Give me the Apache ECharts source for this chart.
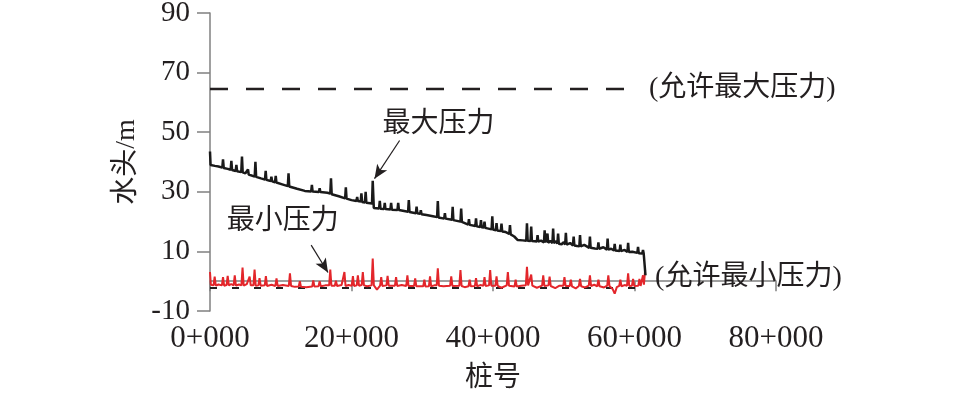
<!DOCTYPE html>
<html>
<head>
<meta charset="utf-8">
<script src="https://cdn.jsdelivr.net/npm/echarts@6/dist/echarts.min.js"></script>
<style>
html,body{margin:0;padding:0;background:#fff;}
#chart{width:957px;height:395px;}
</style>
</head>
<body>
<div id="chart"></div>
<script>
// ---- data (station in km, head in m) ----
const xTickLabels = ['0+000', '20+000', '40+000', '60+000', '80+000'];
const yTickValues = [-10, 10, 30, 50, 70, 90];

const maxHeadPoints = [
[0,43.5],[0.08,39.0],[0.7,38.7],[1.2,38.5],[1.74,38.1],[1.84,40.9],[1.94,38.0],[2.5,37.7],[2.92,37.4],[3.02,40.4],[3.12,37.3],[3.63,37.0],[3.73,39.0],[3.83,36.9],[4.42,36.6],[4.52,41.8],[4.62,36.5],[5.0,36.2],[5.27,35.9],[5.37,37.5],[5.47,35.8],[6.32,35.1],[6.42,40.1],[6.52,35.0],[7.2,34.5],[7.77,34.1],[7.87,37.0],[7.97,34.0],[8.58,33.6],[8.68,35.1],[8.78,33.5],[9.19,33.2],[9.29,35.3],[9.39,33.1],[10.2,32.5],[11.0,31.9],[11.1,36.2],[11.2,31.8],[12.3,31.0],[13.4,30.3],[14.3,30.1],[14.4,32.3],[14.5,30.1],[15.4,29.9],[15.5,31.2],[15.6,29.9],[16.6,29.7],[17.0,29.4],[17.1,34.5],[17.2,29.2],[18.2,28.5],[19.1,27.8],[19.2,31.5],[19.3,27.7],[20.0,27.2],[20.7,26.9],[20.8,28.3],[20.9,26.9],[21.3,26.7],[21.4,29.5],[21.5,26.6],[21.9,26.4],[22.0,30.0],[22.1,26.3],[22.9,26.1],[23.0,33.7],[23.15,24.6],[23.9,24.4],[24.0,27.0],[24.1,24.3],[24.6,24.2],[24.7,26.3],[24.8,24.2],[25.5,24.1],[25.6,26.3],[25.7,24.0],[26.5,23.9],[26.6,26.3],[26.7,23.9],[28.0,23.3],[28.1,27.2],[28.2,23.2],[29.1,22.8],[29.2,25.0],[29.3,22.8],[29.7,22.6],[29.8,23.8],[29.9,22.5],[30.6,22.2],[31.5,21.8],[32.1,21.5],[32.2,26.9],[32.3,21.4],[33.1,21.0],[33.2,22.8],[33.3,21.0],[34.2,20.6],[34.3,25.0],[34.4,20.5],[35.4,20.0],[35.5,24.4],[35.6,19.9],[36.5,19.0],[36.6,20.8],[36.7,18.9],[37.5,18.5],[37.6,21.1],[37.7,18.4],[38.2,18.2],[38.3,20.5],[38.4,18.1],[38.7,18.0],[38.8,20.0],[38.9,17.9],[39.8,17.4],[39.9,21.8],[40.0,17.3],[40.4,17.1],[40.5,19.5],[40.6,17.0],[41.1,16.8],[41.2,19.3],[41.3,16.7],[41.8,16.5],[42.3,15.9],[42.4,18.8],[42.5,15.7],[43.0,15.0],[43.5,13.8],[44.2,13.7],[44.7,13.6],[44.8,19.4],[44.9,13.6],[45.3,13.5],[45.4,18.3],[45.5,13.5],[45.9,13.4],[46.2,13.3],[46.3,15.5],[46.4,13.3],[46.8,13.6],[47.2,13.0],[47.3,17.1],[47.4,13.0],[47.6,13.2],[47.7,16.0],[47.8,12.9],[48.1,13.5],[48.4,12.8],[48.5,17.7],[48.6,12.8],[48.9,13.4],[49.1,12.6],[49.2,16.0],[49.3,12.6],[49.7,12.4],[50.0,13.1],[50.2,12.3],[50.3,16.2],[50.4,12.3],[50.9,12.8],[51.3,12.0],[51.4,15.0],[51.5,12.0],[51.9,11.8],[52.2,11.7],[52.3,15.5],[52.4,11.7],[52.9,12.2],[53.6,11.2],[53.7,15.0],[53.8,11.2],[54.4,11.0],[54.8,10.9],[54.9,13.0],[55.0,10.9],[55.6,11.4],[56.1,10.6],[56.2,14.3],[56.3,10.6],[56.7,10.9],[57.1,10.3],[57.2,12.5],[57.3,10.3],[57.9,10.1],[58.0,12.3],[58.1,10.1],[58.6,10.5],[59.0,9.8],[59.1,12.9],[59.2,9.8],[59.7,9.9],[60.4,9.5],[60.5,11.5],[60.6,9.4],[61.1,9.3],[61.2,10.5],[61.3,9.3],[61.45,9.2],[61.55,2.0]
];

const minHeadPoints = [
[0,3.1],[0.12,-1.2],[0.5,-1.4],[0.66,1.5],[0.82,-1.5],[1.2,-1.1],[1.68,-1.4],[1.84,1.4],[2.0,-1.5],[2.34,-1.3],[2.5,1.8],[2.66,-1.4],[3.0,-1.0],[3.34,-1.4],[3.5,2.0],[3.66,-1.5],[4.1,-1.1],[4.44,-1.4],[4.6,4.6],[4.76,-1.5],[5.2,-1.0],[5.44,-1.4],[5.6,1.5],[5.76,-1.4],[6.14,-1.4],[6.3,3.9],[6.46,-1.5],[6.84,-1.4],[7.0,1.0],[7.16,-1.5],[7.74,-1.4],[7.9,1.7],[8.06,-1.6],[8.7,-1.2],[9.24,-1.6],[9.4,0.9],[9.56,-1.6],[10.3,-1.3],[11.14,-1.6],[11.3,2.6],[11.46,-1.6],[12.0,-1.9],[12.54,-1.8],[12.7,0.0],[12.86,-1.9],[13.6,-2.0],[14.44,-1.8],[14.6,0.3],[14.76,-1.8],[15.34,-1.7],[15.5,0.0],[15.66,-1.7],[16.3,-1.4],[16.84,-1.4],[17.0,3.9],[17.16,-1.5],[17.64,-1.5],[17.8,0.2],[17.96,-1.6],[18.6,-1.3],[18.84,-1.5],[19.0,3.1],[19.16,-1.6],[19.6,-1.3],[20.04,-1.5],[20.2,1.7],[20.36,-1.6],[20.74,-1.4],[20.9,2.0],[21.06,-1.5],[21.44,-1.3],[21.6,3.1],[21.76,-1.4],[22.2,-1.7],[22.84,-1.4],[23.0,7.6],[23.16,-1.4],[23.6,-2.8],[24.04,-1.5],[24.2,1.4],[24.36,-1.6],[24.94,-1.4],[25.1,1.8],[25.26,-1.5],[26.14,-1.5],[26.3,1.4],[26.46,-1.6],[27.1,-1.3],[27.74,-1.6],[27.9,2.0],[28.06,-1.6],[28.84,-1.6],[29.0,0.9],[29.16,-1.7],[30.14,-1.7],[30.3,0.5],[30.46,-1.8],[30.94,-1.7],[31.1,1.6],[31.26,-1.7],[31.7,-1.4],[32.04,-1.4],[32.2,4.3],[32.36,-1.5],[33.0,-1.7],[33.94,-1.5],[34.1,1.6],[34.26,-1.6],[35.24,-1.5],[35.4,3.7],[35.56,-1.6],[36.0,-2.0],[36.54,-1.7],[36.7,0.5],[36.86,-1.7],[37.44,-1.6],[37.6,1.0],[37.76,-1.7],[38.2,-1.3],[38.64,-1.5],[38.8,1.4],[38.96,-1.6],[39.44,-1.4],[39.6,3.7],[39.76,-1.5],[40.34,-1.5],[40.5,1.6],[40.66,-1.6],[41.2,-2.2],[41.94,-1.4],[42.1,3.1],[42.26,-1.5],[43.04,-1.8],[43.2,0.5],[43.36,-1.8],[44.0,-1.5],[44.64,-1.4],[44.8,4.8],[44.96,-1.4],[45.24,-1.3],[45.4,2.2],[45.56,-1.5],[46.2,-2.2],[46.94,-1.5],[47.1,2.0],[47.26,-1.6],[47.84,-1.4],[48.0,1.5],[48.16,-1.6],[48.8,-2.3],[49.4,-1.5],[49.94,-1.5],[50.1,1.4],[50.26,-1.6],[50.84,-1.6],[51.0,0.5],[51.16,-1.7],[51.7,-2.4],[52.14,-1.6],[52.3,0.8],[52.46,-1.7],[53.0,-2.1],[53.54,-1.5],[53.7,2.0],[53.86,-1.6],[54.3,-1.2],[54.74,-1.7],[54.9,0.5],[55.06,-1.7],[55.7,-2.1],[56.14,-1.5],[56.3,2.0],[56.46,-1.6],[56.9,-2.6],[57.2,-4.2],[57.5,-2.0],[57.84,-1.6],[58.0,0.5],[58.16,-1.7],[58.6,-1.3],[58.94,-1.5],[59.1,2.6],[59.26,-1.6],[59.64,-1.5],[59.8,0.8],[59.96,-1.6],[60.54,-1.5],[60.7,0.8],[60.86,-1.6],[61.04,-1.4],[61.2,2.0],[61.33,-1.2],[61.5,3.7]
];

const allowMaxLine = [[0, 64.5], [60.5, 64.5]];
const allowMinLine = [[0, -2.3], [61.5, -2.3]];

const seriesNames = ['最大压力', '最小压力'];
const limitNames = ['(允许最大压力)', '(允许最小压力)'];
const maxLabelAt = [32.3, 52.6];
const minLabelAt = [10.3, 19.9];
const maxArrow = [[26.8, 47.2], [23.25, 34.4]];
const minArrow = [[14.3, 12.1], [16.68, 2.9]];

// ---- chart ----
const FONT = "'Liberation Serif', 'Noto Sans CJK SC', serif";
const chart = echarts.init(document.getElementById('chart'), null, {renderer: 'canvas'});
const txt = {fontFamily: FONT, fontSize: 28, color: '#231f20'};

chart.setOption({
  animation: false,
  backgroundColor: '#fff',
  grid: {left: 210, right: 181, top: 13, bottom: 84, containLabel: false, outerBoundsMode: 'none'},
  xAxis: {
    type: 'value', min: 0, max: 80, interval: 20,
    name: '桩号', nameLocation: 'middle', nameGap: 54,
    nameTextStyle: {fontFamily: FONT, fontSize: 28, color: '#231f20'},
    axisLine: {show: true, lineStyle: {color: '#808080', width: 1.5}},
    axisTick: {show: true, inside: false, length: 10, lineStyle: {color: '#808080', width: 1.5}},
    axisLabel: {fontFamily: FONT, fontSize: 31, color: '#231f20', margin: 12,
      formatter: v => xTickLabels[Math.round(v / 20)]},
    splitLine: {show: false}
  },
  yAxis: {
    type: 'value', min: -10, max: 90, interval: 20,
    name: '水头/m', nameLocation: 'middle', nameGap: 54, nameRotate: 90,
    nameTextStyle: {fontFamily: FONT, fontSize: 28, color: '#231f20'},
    axisLine: {show: true, onZero: false, lineStyle: {color: '#808080', width: 1.5}},
    axisTick: {show: true, inside: false, length: 13, lineStyle: {color: '#808080', width: 1.5}},
    axisLabel: {fontFamily: FONT, fontSize: 29, color: '#231f20', margin: 20,
      formatter: v => (yTickValues.indexOf(v) >= 0 ? String(v) : '')},
    splitLine: {show: false}
  },
  series: [
    {
      type: 'line', data: allowMaxLine, symbol: 'none', silent: true, z: 1,
      lineStyle: {color: '#231f20', width: 2.5, type: [18, 18]},
      endLabel: {show: true, formatter: limitNames[0], distance: 11, ...txt}
    },
    {
      type: 'line', data: allowMinLine, symbol: 'none', silent: true, z: 1,
      lineStyle: {color: '#231f20', width: 2, type: [7, 15]},
      endLabel: {show: true, formatter: limitNames[1], distance: 10, offset: [0, -10], ...txt}
    },
    {
      name: seriesNames[0], type: 'line', data: maxHeadPoints, symbol: 'none', z: 3,
      lineStyle: {color: '#1a1a1a', width: 2.5},
      markPoint: {
        symbol: 'circle', symbolSize: 1, itemStyle: {color: 'rgba(0,0,0,0)'},
        label: {show: true, position: 'inside', formatter: seriesNames[0], ...txt},
        data: [{coord: maxLabelAt}]
      },
      markLine: {
        silent: true, symbol: ['none', 'arrow'], symbolSize: [9, 14],
        lineStyle: {color: '#231f20', width: 1.2, type: 'solid'},
        label: {show: false},
        data: [[{coord: maxArrow[0]}, {coord: maxArrow[1]}]]
      }
    },
    {
      name: seriesNames[1], type: 'line', data: minHeadPoints, symbol: 'none', z: 2,
      lineStyle: {color: '#e3262b', width: 2},
      markPoint: {
        symbol: 'circle', symbolSize: 1, itemStyle: {color: 'rgba(0,0,0,0)'},
        label: {show: true, position: 'inside', formatter: seriesNames[1], ...txt},
        data: [{coord: minLabelAt}]
      },
      markLine: {
        silent: true, symbol: ['none', 'arrow'], symbolSize: [9, 14],
        lineStyle: {color: '#231f20', width: 1.2, type: 'solid'},
        label: {show: false},
        data: [[{coord: minArrow[0]}, {coord: minArrow[1]}]]
      }
    }
  ]
});
</script>
</body>
</html>
